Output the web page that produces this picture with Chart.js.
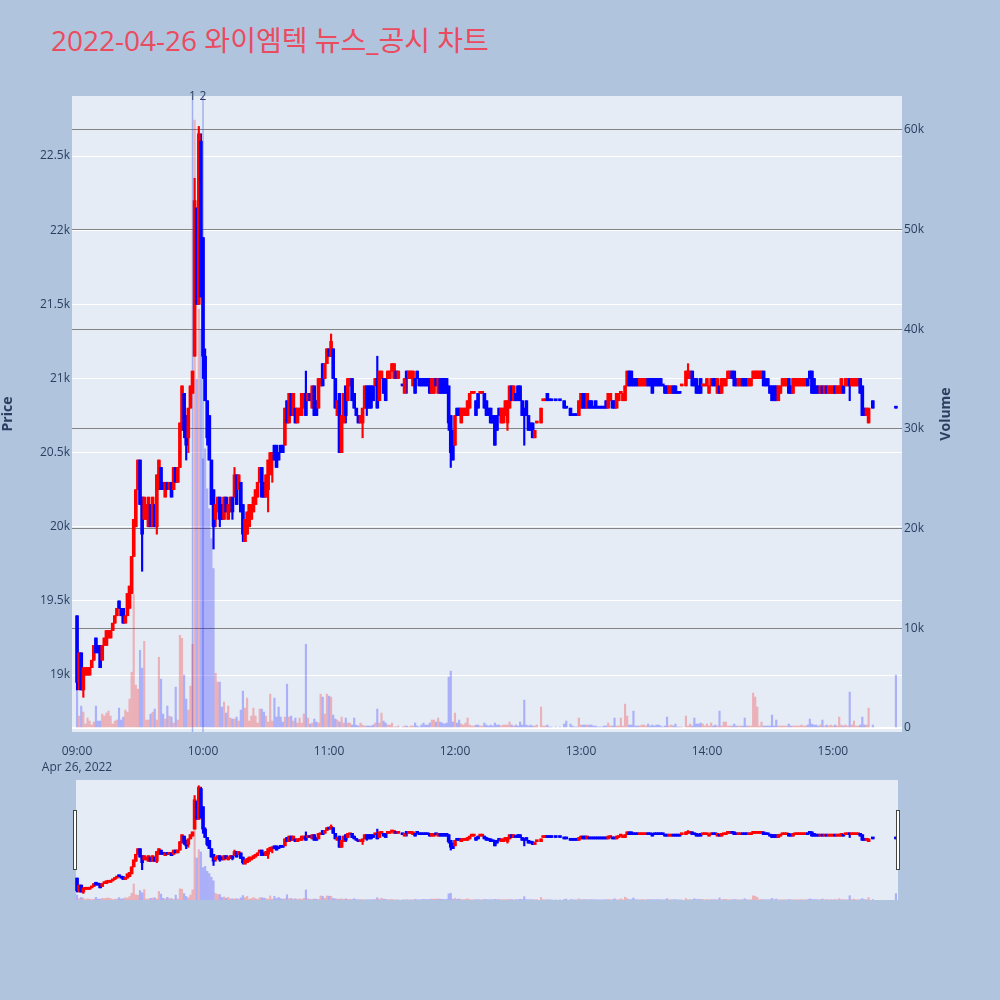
<!DOCTYPE html>
<html><head><meta charset="utf-8">
<script src="https://cdn.jsdelivr.net/npm/chart.js@4.4.0/dist/chart.umd.min.js"></script>
<style>
html,body{margin:0;padding:0;background:#B0C4DE;width:1000px;height:1000px;overflow:hidden;}
#title{position:absolute;left:51px;top:21px;font-family:'Open Sans','Noto Sans CJK KR',sans-serif;font-size:28px;color:#EB4B5F;white-space:nowrap;line-height:38px;}
#main{position:absolute;left:0;top:0;}
#slider{position:absolute;left:72px;top:780px;}
</style></head><body>
<div id="title">2022-04-26 와이엠텍 뉴스_공시 차트</div>
<canvas id="main" width="1000" height="780"></canvas>
<canvas id="slider" width="830" height="120"></canvas>
<script>
// ---- data (minutes after 09:00) ----
const minutes = [
0,1,2,3,4,5,6,7,8,9,10,11,12,13,14,15,16,17,18,19,20,21,22,23,24,25,26,27,28,29,
30,31,32,33,34,35,36,37,38,39,40,41,42,43,44,45,46,47,48,49,50,51,52,53,54,55,
56,57,58,59,
60,61,62,63,64,65,66,67,68,69,70,71,72,73,74,75,76,77,78,79,80,81,82,83,84,85,86,87,88,89,
90,91,92,93,94,95,96,97,98,99,100,101,102,103,104,105,106,107,108,109,110,111,112,113,114,115,116,117,118,119,
120,121,122,123,124,125,126,127,128,129,130,131,132,133,134,135,136,137,138,139,140,141,142,143,144,145,146,147,148,149,
150,151,152,153,
155,156,157,158,159,
160,161,162,163,164,165,166,167,168,169,170,171,172,173,174,175,176,177,178,179,
180,181,182,183,184,185,186,187,188,189,190,191,192,193,194,195,196,197,198,199,
200,201,202,203,204,205,206,207,208,209,210,211,212,213,214,215,216,217,218,219,
221,222,223,224,225,226,
228,230,232,233,
235,236,237,238,239,
240,241,242,243,244,245,246,247,248,249,250,251,252,253,254,255,256,257,258,259,
260,261,262,263,264,265,266,267,268,269,270,271,272,273,274,275,276,277,278,279,
280,281,282,283,284,285,286,287,288,
290,291,292,293,294,295,296,297,298,299,
300,301,302,303,304,305,306,307,308,309,310,311,312,313,314,315,316,317,318,319,
320,321,322,323,324,325,326,327,328,329,330,331,332,333,334,335,336,337,338,339,
340,341,342,343,344,345,346,347,348,349,350,351,352,353,354,355,356,357,358,359,
360,361,362,363,364,365,366,367,368,369,370,371,372,373,374,375,376,377,
379,390];

const opens = [
19400,18950,19150,18900,19000,19000,19000,19050,19100,19250,
19200,19200,19100,19200,19200,19250,19250,19300,19350,19400,
19500,19450,19450,19350,19400,19450,19550,19800,20000,20250,
20450,20200,20050,20050,20000,20150,20000,20150,20000,20250,
20400,20300,20200,20300,20250,20300,20250,20400,20300,20400,
20700,20900,20750,20600,20800,20900,
21150,22150,21500,22600,
21950,21150,20850,20750,20450,20250,20050,20100,20200,20150,
20050,20200,20050,20100,20200,20200,20350,20250,20300,20150,
19900,19950,20000,20050,20100,20150,20200,20300,20400,20300,
20200,20250,20350,20450,20550,20550,20500,20550,20550,20550,
20850,20700,20900,20750,20800,20700,20750,20750,20800,20900,
20850,20900,20800,20950,20850,20800,20950,21100,21000,21100,
21200,21150,21200,21000,20750,20900,20500,20700,20950,20850,
20950,21000,20900,20800,20750,20700,20700,20800,20950,20950,
20950,20950,20950,21000,20850,21000,21000,21000,21000,21000,
21050,21000,21050,21000,
20950,20900,21050,21000,21000,
20950,21000,21050,21000,21000,21000,21000,21000,21000,20900,
20900,21000,20900,21000,21000,21000,21000,20950,20750,20650,
20550,20800,20800,20700,20750,20750,20750,20800,20900,20900,
20850,20900,20900,20900,20900,20850,20800,20800,20750,20750,
20750,20800,20700,20700,20750,20700,20800,20950,20850,20900,
20950,20950,20850,20800,20850,20750,20700,20700,20600,20700,
20700,20850,20850,20900,20850,20850,
20850,20850,20850,20800,
20800,20750,20750,20750,20750,
20800,20900,20900,20800,20850,20850,20800,20850,20800,20800,
20800,20800,20850,20800,20850,20850,20850,20800,20850,20900,
20850,20850,20950,21050,21050,21000,21000,21000,20950,20950,
20950,20950,21000,21000,21000,21000,21000,21000,21000,20950,
20950,20950,20900,20900,20950,20950,20900,20900,20950,
20950,21000,21000,21050,21000,21000,20950,21000,20950,20950,
20950,20900,20950,21000,21000,20900,20950,20900,20950,20950,
21000,21000,21050,21050,21000,20950,20950,21000,21000,21000,
20950,20950,21000,21000,21000,21000,21000,21050,21000,21000,
20950,20950,20950,20950,20850,20900,20950,20950,20950,21000,
20950,20900,20950,20950,20950,20950,20950,20950,21000,21050,
21050,21000,20950,20950,20900,20950,20900,20950,20900,20900,
20900,20950,20900,20900,20900,20950,20950,20950,21000,20950,
20950,20950,20950,21000,20950,20800,20750,20700,
20850,20800];

const highs = [
19400,19150,19150,19050,19050,19050,19050,19100,19200,19250,
19200,19200,19200,19250,19300,19300,19300,19350,19400,19450,
19500,19450,19450,19400,19550,19600,19800,20050,20250,20450,
20450,20200,20200,20150,20200,20150,20200,20150,20350,20450,
20400,20300,20300,20300,20300,20300,20400,20400,20400,20700,
20950,20900,20750,20800,20950,21050,
22350,22150,22700,22650,
21950,21200,20850,20750,20450,20250,20150,20200,20200,20150,
20200,20200,20150,20200,20200,20400,20350,20350,20300,20150,
20050,20100,20150,20150,20200,20250,20300,20400,20400,20300,
20350,20450,20500,20500,20550,20550,20500,20550,20550,20800,
20850,20900,20900,20900,20800,20800,20800,20900,20900,21050,
20900,20900,20950,20950,20850,21000,21000,21100,21100,21200,
21200,21300,21200,21000,20850,20900,20750,20900,20950,21000,
21000,21000,20900,20800,20750,20750,20800,20950,20950,20950,
20950,20950,21000,21150,21050,21050,21000,21000,21050,21050,
21100,21100,21050,21050,
20950,21000,21050,21050,21050,
21050,21000,21050,21000,21000,21000,21000,21000,21000,21000,
21000,21000,21000,21000,21000,21000,21000,20950,20750,20650,
20750,20800,20800,20800,20800,20800,20850,20900,20900,20900,
20850,20900,20900,20900,20900,20850,20800,20800,20750,20750,
20750,20800,20800,20800,20850,20850,20950,20950,20950,20900,
20950,20950,20850,20800,20850,20750,20700,20700,20650,20700,
20800,20850,20850,20900,20850,20850,
20850,20850,20850,20800,
20800,20750,20750,20750,20850,
20900,20900,20900,20900,20850,20850,20800,20850,20800,20800,
20800,20800,20850,20900,20900,20850,20850,20900,20900,20900,
20900,20950,21050,21050,21050,21000,21000,21000,21000,21000,
21000,21000,21000,21000,21000,21000,21000,21000,21000,20950,
20950,20950,20950,20950,20950,20950,20900,20900,20950,
21050,21100,21050,21050,21000,21000,20950,21000,20950,20950,
21000,20950,21000,21000,21000,21000,20950,21000,21000,21000,
21050,21050,21050,21050,21000,21000,21000,21000,21000,21000,
21000,21000,21050,21050,21050,21050,21050,21050,21000,21000,
20950,20950,20950,20950,20950,20950,21000,21000,21000,21000,
20950,21000,21000,21000,21000,21000,21000,21000,21000,21050,
21050,21000,20950,20950,20950,20950,20950,20950,20950,20950,
20950,20950,20950,20950,21000,20950,21000,21000,21000,21000,
21000,21000,21000,21000,20950,20800,20800,20800,
20850,20800];

const lows = [
18900,18900,18900,18850,19000,19000,19000,19050,19100,19150,
19150,19050,19100,19200,19200,19250,19250,19300,19350,19400,
19450,19400,19350,19350,19400,19450,19550,19800,20000,20250,
20150,19700,20050,20050,20000,20000,20000,20000,19950,20250,
20250,20250,20200,20250,20250,20200,20250,20300,20300,20400,
20650,20600,20450,20500,20800,20900,
21150,21500,21500,21550,
21000,20850,20550,20450,20150,19850,20000,20100,20000,20050,
20050,20100,20050,20100,20050,20200,20150,20250,20100,19900,
19900,19950,20000,20050,20100,20150,20200,20300,20200,20200,
20200,20100,20350,20300,20450,20400,20450,20500,20500,20550,
20700,20700,20750,20750,20700,20700,20750,20750,20800,20750,
20850,20850,20800,20750,20750,20800,20950,20950,21000,21100,
21150,21150,21000,20800,20750,20500,20500,20700,20700,20850,
20950,20850,20800,20750,20700,20700,20600,20800,20750,20800,
20800,20850,20950,20800,20850,21000,20900,20850,21000,21000,
21050,21000,21000,21000,
20950,20900,20900,21000,21000,
20950,20900,21000,20950,20950,20950,20950,20950,20900,20900,
20900,20950,20900,20900,20900,20900,20900,20650,20400,20450,
20550,20750,20750,20700,20750,20750,20750,20800,20900,20900,
20750,20800,20900,20900,20800,20750,20750,20700,20700,20550,
20650,20750,20700,20700,20750,20650,20800,20850,20850,20850,
20850,20850,20750,20550,20750,20650,20650,20600,20600,20700,
20700,20850,20850,20850,20850,20850,
20850,20850,20800,20800,
20750,20750,20750,20750,20750,
20800,20800,20800,20800,20800,20800,20800,20800,20800,20800,
20800,20800,20800,20800,20850,20800,20800,20800,20850,20900,
20850,20850,20950,20950,20950,20950,20950,20950,20950,20950,
20950,20950,20950,20950,20900,20950,20950,20950,20950,20950,
20900,20900,20900,20900,20900,20900,20900,20900,20950,
20950,21000,21000,20950,20950,20900,20900,20900,20950,20950,
20950,20900,20950,20950,20950,20900,20900,20900,20950,20950,
21000,21000,21000,20950,20950,20950,20950,20950,20950,20950,
20950,20950,21000,21000,21000,21000,21000,20950,20950,20950,
20900,20850,20850,20850,20850,20900,20950,20950,20950,20900,
20900,20900,20950,20950,20950,20950,20950,20950,20950,21000,
20900,20900,20900,20900,20900,20900,20900,20900,20900,20900,
20900,20900,20900,20900,20900,20900,20950,20950,20850,20950,
20950,20950,20950,20900,20750,20750,20750,20700,
20800,20800];

const closes = [
18950,19150,18900,19050,19050,19050,19050,19100,19200,19150,
19150,19050,19200,19250,19300,19300,19300,19350,19400,19450,
19450,19400,19350,19400,19550,19600,19800,20050,20250,20450,
20150,19950,20200,20150,20200,20000,20200,20000,20350,20450,
20250,20250,20300,20250,20300,20200,20400,20300,20400,20700,
20950,20650,20550,20800,20950,21050,
22200,21500,22650,21550,
21150,20850,20600,20450,20150,20000,20150,20200,20050,20050,
20200,20100,20150,20200,20100,20350,20150,20350,20100,19950,
20050,20100,20150,20150,20200,20250,20300,20400,20200,20200,
20350,20450,20500,20500,20450,20400,20450,20500,20500,20800,
20700,20900,20750,20900,20700,20800,20800,20900,20900,20750,
20900,20850,20950,20750,20750,21000,21000,20950,21100,21200,
21150,21250,21000,20800,20850,20500,20750,20900,20750,21000,
21000,20850,20800,20750,20700,20750,20800,20950,20800,20800,
20800,20850,21000,20800,21050,21050,20900,20850,21050,21050,
21100,21100,21000,21050,
20950,21000,21000,21050,21050,
21050,20900,21000,20950,20950,20950,20950,20950,20900,21000,
21000,20950,21000,20900,20900,20900,20900,20700,20500,20450,
20750,20750,20750,20800,20800,20800,20850,20900,20900,20900,
20750,20800,20900,20900,20800,20750,20750,20700,20700,20550,
20650,20750,20800,20800,20850,20850,20950,20850,20950,20850,
20850,20850,20750,20750,20750,20650,20650,20600,20650,20700,
20800,20850,20850,20850,20850,20850,
20850,20850,20800,20800,
20750,20750,20750,20750,20850,
20900,20800,20800,20900,20800,20800,20800,20800,20800,20800,
20800,20800,20800,20900,20900,20800,20800,20900,20900,20900,
20900,20950,21050,20950,20950,20950,20950,20950,21000,21000,
21000,21000,20950,20950,20900,20950,20950,20950,20950,20950,
20900,20900,20950,20950,20900,20900,20900,20900,20950,
21050,21050,21050,20950,20950,20900,20900,20900,20950,20950,
21000,20950,21000,20950,20950,21000,20900,21000,21000,21000,
21050,21050,21000,20950,20950,21000,21000,20950,20950,20950,
21000,21000,21050,21050,21050,21050,21050,20950,20950,20950,
20900,20850,20850,20850,20950,20950,21000,21000,21000,20900,
20900,21000,21000,21000,21000,21000,21000,21000,20950,21000,
20900,20900,20900,20900,20950,20900,20950,20900,20950,20950,
20950,20900,20950,20950,21000,20900,21000,21000,20950,21000,
21000,21000,21000,20900,20750,20750,20800,20800,
20800,20800];

const volumes = [
4200,1200,2200,1600,400,1000,700,300,600,2200,
700,700,1400,1200,1500,1700,1200,400,700,800,
2000,800,1100,1800,1600,2900,5600,13400,4300,3900,
7800,6000,8700,800,800,1400,1600,1900,800,7100,
4900,1400,900,2200,1200,1100,500,4100,800,9300,
9000,5300,2900,1800,4200,8400,
61000,35000,42000,40000,
27000,28000,24000,22000,19000,16000,5500,4600,4600,2100,
2600,1500,2200,1000,900,900,1100,700,1800,3700,
2000,3000,700,1200,2000,1200,500,1900,1900,1600,
1200,600,3400,700,3000,1100,2100,1100,600,1100,
4400,1100,1200,700,1000,500,1000,500,1400,8400,
1000,400,500,900,600,500,3400,3100,1400,3400,
3200,3100,1300,900,800,600,1100,500,1000,500,
500,300,1000,300,200,500,300,200,200,200,
200,300,500,1900,500,1500,700,500,300,300,
500,100,100,200,
100,200,200,100,200,
200,500,200,100,300,500,300,300,500,800,
800,600,1000,600,500,400,500,5100,5700,600,
1500,500,800,400,300,500,1000,300,200,200,
300,300,200,200,500,300,200,300,200,500,
300,300,200,300,300,300,600,300,200,300,
200,600,300,2800,300,200,300,200,200,300,
2100,200,200,300,100,100,
100,100,400,700,
400,200,100,100,1000,
300,300,300,300,300,300,200,200,100,100,
100,200,200,500,200,200,1000,200,200,1000,
200,2400,1200,300,300,1700,200,200,200,300,
300,200,400,200,300,200,300,300,200,100,
200,1100,200,300,200,400,100,100,100,
1200,200,400,200,1000,400,400,500,400,200,
400,200,500,200,300,200,1700,200,600,600,
200,200,200,400,200,200,200,200,1000,200,
200,200,3500,3100,2100,200,600,200,200,200,
200,1300,200,800,200,200,200,200,200,400,
200,200,200,200,200,300,200,200,300,900,
400,300,300,200,300,800,200,300,200,300,
200,300,200,1100,300,200,300,200,3600,300,
700,200,200,300,1100,300,300,2000,
300,5300];

const newsTimes = [55, 60];
const newsLabels = ['1', '2'];
const hourTicks = [0, 60, 120, 180, 240, 300, 360];
const hourLabels = ['09:00','10:00','11:00','12:00','13:00','14:00','15:00'];
const dateLabel = 'Apr 26, 2022';
const priceTicks = [19000, 19500, 20000, 20500, 21000, 21500, 22000, 22500];
const priceTickLabels = ['19k','19.5k','20k','20.5k','21k','21.5k','22k','22.5k'];
const volumeTicks = [0, 10000, 20000, 30000, 40000, 50000, 60000];
const volumeTickLabels = ['0','10k','20k','30k','40k','50k','60k'];

// ---- setup ----
Chart.defaults.font.family = "'Open Sans', 'Noto Sans CJK KR', sans-serif";
Chart.defaults.font.size = 12;
Chart.defaults.color = '#2a3f5f';

const X_MIN = -2.4, X_MAX = 392.9;
const P_MIN = 18616, P_MAX = 22905;
const V_MIN = -401, V_MAX = 63410;
const FONT_COLOR = '#2a3f5f';

const n = Math.min(minutes.length, opens.length, highs.length, lows.length, closes.length, volumes.length);
const isUp = [];
for (let i = 0; i < n; i++) {
  if (closes[i] > opens[i]) isUp.push(true);
  else if (closes[i] < opens[i]) isUp.push(false);
  else if (i > 0 && closes[i] > closes[i-1]) isUp.push(true);
  else if (i > 0 && closes[i] < closes[i-1]) isUp.push(false);
  else isUp.push(i > 0 ? isUp[i-1] : true);
}
const candleCol = isUp.map(u => u ? '#ff0000' : '#0000ff');
const volCol = isUp.map(u => u ? 'rgba(255,0,0,0.25)' : 'rgba(0,0,255,0.25)');

function buildDatasets(volAxis) {
  const idx = [...Array(n).keys()];
  return [
    { label:'body', data: idx.map(i => ({x: minutes[i], y: [opens[i], closes[i]]})),
      backgroundColor: candleCol, barThickness: 3, minBarLength: 2, grouped: false, order: 1, yAxisID: 'y' },
    { label:'wick', data: idx.map(i => ({x: minutes[i], y: [lows[i], highs[i]]})),
      backgroundColor: candleCol, barThickness: 1.5, grouped: false, order: 2, yAxisID: 'y' },
    { label:'volume', data: idx.map(i => ({x: minutes[i], y: volumes[i]})),
      backgroundColor: volCol, barThickness: 1.5, grouped: false, order: 3, yAxisID: volAxis }
  ];
}

const bgPlugin = {
  id: 'plotbg',
  beforeDraw(chart) {
    const a = chart.chartArea, c = chart.ctx;
    c.save(); c.fillStyle = '#E5ECF6';
    c.fillRect(a.left, a.top, a.right - a.left, a.bottom - a.top);
    c.restore();
  }
};

const newsPlugin = {
  id: 'news',
  beforeDatasetsDraw(chart) {
    const a = chart.chartArea, c = chart.ctx, xs = chart.scales.x;
    c.save();
    newsTimes.forEach(t => {
      const px = xs.getPixelForValue(t);
      c.strokeStyle = 'rgba(60,90,230,0.4)'; c.lineWidth = 1.5;
      c.beginPath(); c.moveTo(px, a.top); c.lineTo(px, a.bottom); c.stroke();
    });
    c.restore();
  },
  afterDraw(chart) {
    const a = chart.chartArea, c = chart.ctx, xs = chart.scales.x;
    c.save();
    c.fillStyle = FONT_COLOR; c.font = "12px 'Open Sans', sans-serif";
    c.textAlign = 'center'; c.textBaseline = 'middle';
    newsTimes.forEach((t, i) => c.fillText(newsLabels[i], xs.getPixelForValue(t), a.top + 1));
    c.translate(946, (a.top + a.bottom) / 2);
    c.rotate(-Math.PI / 2);
    c.font = "bold 14px 'Open Sans', sans-serif";
    c.fillText('Volume', 0, 0);
    c.restore();
  }
};

new Chart(document.getElementById('main'), {
  type: 'bar',
  data: { datasets: buildDatasets('yv') },
  options: {
    responsive: false, animation: false, devicePixelRatio: 1,
    layout: { padding: { top: 96, left: 0, right: 0, bottom: 0 } },
    plugins: { legend: { display: false }, tooltip: { enabled: false } },
    scales: {
      x: {
        type: 'linear', min: X_MIN, max: X_MAX, offset: false,
        grid: { display: false, offset: false }, border: { display: false },
        afterBuildTicks: s => { s.ticks = hourTicks.map(v => ({ value: v })); },
        ticks: {
          autoSkip: false, maxRotation: 0, minRotation: 0, padding: 3, color: FONT_COLOR,
          font: { size: 12, lineHeight: 1.35 },
          callback: v => { const i = hourTicks.indexOf(v); if (i < 0) return ''; return i === 0 ? [hourLabels[0], dateLabel] : hourLabels[i]; }
        },
        afterFit: s => { s.height = 48; }
      },
      y: {
        type: 'linear', position: 'left', min: P_MIN, max: P_MAX,
        grid: { color: '#ffffff', lineWidth: 1, drawTicks: false }, border: { display: false },
        afterBuildTicks: s => { s.ticks = priceTicks.map(v => ({ value: v })); },
        ticks: { autoSkip: false, padding: 2, color: FONT_COLOR,
          callback: v => { const i = priceTicks.indexOf(v); return i < 0 ? '' : priceTickLabels[i]; } },
        title: { display: true, text: 'Price', color: FONT_COLOR, font: { size: 14, weight: 'bold' }, padding: 0 },
        afterFit: s => { s.width = 72; }
      },
      yv: {
        type: 'linear', position: 'right', min: V_MIN, max: V_MAX,
        grid: {
          drawOnChartArea: true, drawTicks: false,
          color: ctx => (ctx.tick && ctx.tick.value === 0) ? '#ffffff' : 'rgba(120,120,120,0.9)',
          lineWidth: ctx => (ctx.tick && ctx.tick.value === 0) ? 2 : 1
        },
        border: { display: false },
        afterBuildTicks: s => { s.ticks = volumeTicks.map(v => ({ value: v })); },
        ticks: { autoSkip: false, padding: 2, color: FONT_COLOR,
          callback: v => { const i = volumeTicks.indexOf(v); return i < 0 ? '' : volumeTickLabels[i]; } },
        afterFit: s => { s.width = 98; }
      }
    }
  },
  plugins: [bgPlugin, newsPlugin]
});

// ---- range slider ----
const sliderPlugin = {
  id: 'sliderdeco',
  beforeDraw(chart) {
    const c = chart.ctx;
    c.save(); c.fillStyle = '#E5ECF6'; c.fillRect(4, 0, 822, 120); c.restore();
  },
  afterDraw(chart) {
    const c = chart.ctx;
    c.save();
    c.fillStyle = '#ffffff'; c.strokeStyle = '#444444'; c.lineWidth = 1;
    [[1.5, 30.5], [824.5, 30.5]].forEach(([hx, hy]) => { c.fillRect(hx, hy, 3, 59); c.strokeRect(hx, hy, 3, 59); });
    c.restore();
  }
};

new Chart(document.getElementById('slider'), {
  type: 'bar',
  data: { datasets: buildDatasets('yv') },
  options: {
    responsive: false, animation: false, devicePixelRatio: 1,
    layout: { padding: 0 },
    plugins: { legend: { display: false }, tooltip: { enabled: false } },
    scales: {
      x: { type: 'linear', min: X_MIN, max: X_MAX, offset: false, display: false },
      y: { type: 'linear', min: P_MIN, max: P_MAX, display: false },
      yv: { type: 'linear', min: 0, max: 100000, display: false }
    }
  },
  plugins: [sliderPlugin]
});
</script>
</body></html>
